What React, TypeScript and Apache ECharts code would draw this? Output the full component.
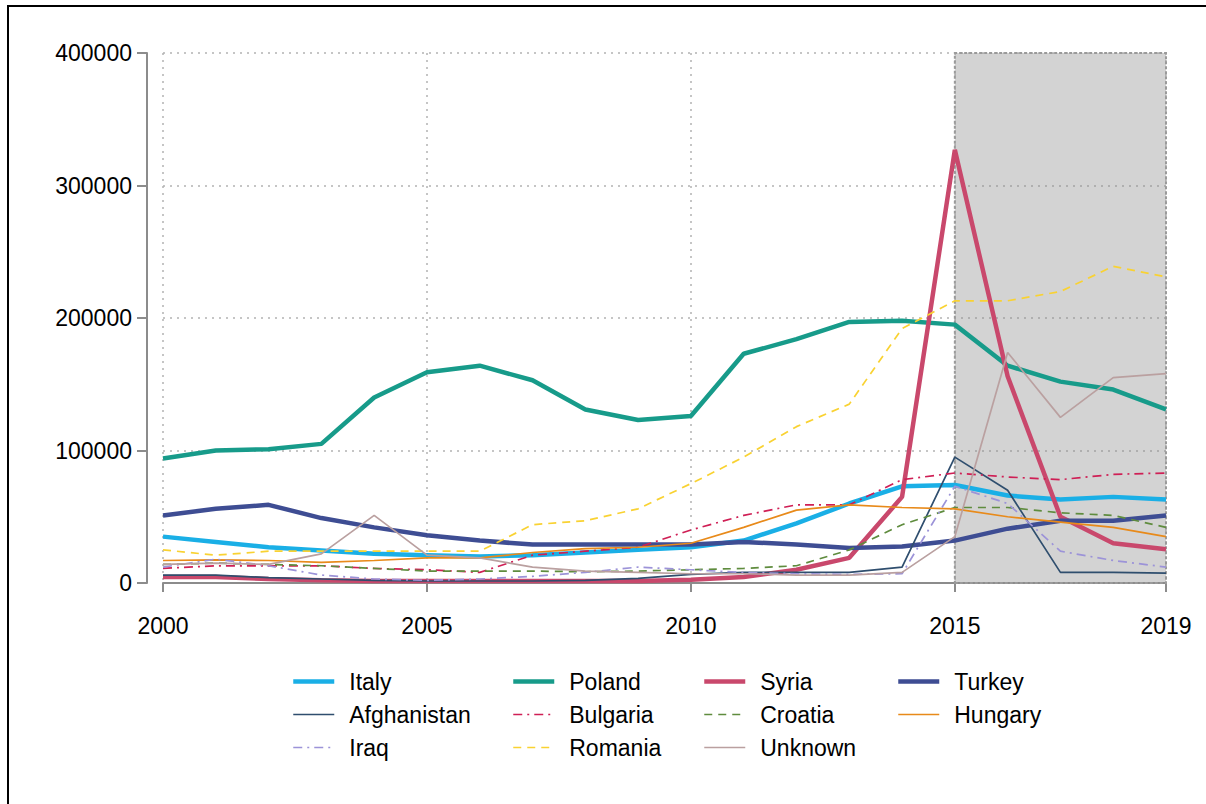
import React, { useEffect, useRef } from 'react';
import * as echarts from 'echarts';

const years = [2000, 2001, 2002, 2003, 2004, 2005, 2006, 2007, 2008, 2009, 2010, 2011, 2012, 2013, 2014, 2015, 2016, 2017, 2018, 2019];
const xTickValues = [2000, 2005, 2010, 2015, 2019];

const italy = [35000, 31000, 27000, 24500, 22000, 21000, 20000, 21000, 23000, 25000, 27000, 32000, 45000, 60000, 73000, 74000, 66000, 63000, 65000, 63000];
const poland = [94000, 100000, 101000, 105000, 140000, 159000, 164000, 153000, 131000, 123000, 126000, 173000, 184000, 197000, 198000, 195000, 164000, 152000, 146000, 131000];
const syria = [4500, 4500, 3000, 2000, 1500, 1500, 1500, 1500, 1500, 1500, 2500, 4500, 10000, 19000, 65000, 327000, 156000, 50000, 30000, 25500];
const turkey = [51000, 56000, 59000, 49000, 42000, 36000, 32000, 29000, 29000, 29000, 29000, 31000, 29000, 26500, 27500, 32000, 41000, 47000, 47000, 51000];
const afghanistan = [6000, 6000, 4000, 3000, 2000, 1500, 1500, 1500, 2000, 3500, 6500, 8000, 8000, 8000, 12000, 95000, 70000, 8000, 8000, 7500];
const bulgaria = [11000, 13000, 13000, 13000, 11000, 10000, 8000, 21000, 24000, 27000, 40000, 51000, 59000, 59000, 78000, 83000, 80000, 78000, 82000, 83000];
const croatia = [14000, 15000, 14000, 13000, 11000, 9000, 9000, 9000, 8500, 9000, 10000, 11000, 13000, 25000, 44000, 57000, 57000, 53000, 51000, 42000];
const hungary = [17000, 17500, 17000, 15500, 17000, 19000, 19000, 23000, 26000, 27000, 30000, 42000, 55000, 59000, 57000, 56000, 50000, 46000, 42000, 35000];
const iraq = [12000, 18000, 13000, 6000, 3000, 2000, 3000, 5000, 8000, 12000, 10000, 8000, 7000, 6500, 7000, 73000, 60000, 24000, 17000, 12000];
const romania = [25000, 21000, 24000, 24000, 24000, 24000, 24000, 44000, 47000, 56000, 75000, 95000, 118000, 135000, 192000, 213000, 213000, 220000, 239000, 231000];
const unknown = [14000, 15000, 14000, 22000, 51000, 21000, 19000, 12000, 9000, 8000, 7000, 7000, 6000, 6000, 8000, 35000, 174000, 125000, 155000, 158000];

const shadeFrom = 2015;
const shadeTo = 2019;

const legendCols = [
  ['Italy', 'Afghanistan', 'Iraq'],
  ['Poland', 'Bulgaria', 'Romania'],
  ['Syria', 'Croatia', 'Unknown'],
  ['Turkey', 'Hungary'],
];
const legendLefts = [291, 511, 702, 896];

const FONT = '"Liberation Sans", Arial, sans-serif';

type Spec = { name: string; values: number[]; color: string; width: number; dash: any };

const specs: Spec[] = [
  { name: 'Italy', values: italy, color: '#1aafe6', width: 4.5, dash: 'solid' },
  { name: 'Poland', values: poland, color: '#179b8a', width: 4.5, dash: 'solid' },
  { name: 'Syria', values: syria, color: '#c9486c', width: 4.5, dash: 'solid' },
  { name: 'Turkey', values: turkey, color: '#3e4d93', width: 4.5, dash: 'solid' },
  { name: 'Afghanistan', values: afghanistan, color: '#2f4e6e', width: 1.7, dash: 'solid' },
  { name: 'Bulgaria', values: bulgaria, color: '#cf1f55', width: 1.7, dash: [9, 5, 2, 5] },
  { name: 'Croatia', values: croatia, color: '#5f8c3e', width: 1.7, dash: [8, 6] },
  { name: 'Hungary', values: hungary, color: '#e88a1a', width: 1.7, dash: 'solid' },
  { name: 'Iraq', values: iraq, color: '#9c93d8', width: 1.7, dash: [9, 5, 2, 5] },
  { name: 'Romania', values: romania, color: '#f9d232', width: 1.7, dash: [8, 6] },
  { name: 'Unknown', values: unknown, color: '#baa0a0', width: 1.7, dash: 'solid' },
];

export default function App() {
  const ref = useRef<HTMLDivElement>(null);

  useEffect(() => {
    document.body.style.margin = '0';
    const chart = echarts.init(ref.current!, null, { renderer: 'svg' });

    const axisLineStyle = { color: '#8c8c8c', width: 2 };
    const gridLineStyle = { color: '#b3b3b3', width: 1.5, type: [2, 5] as any };

    const series: any[] = specs.map((s) => ({
      type: 'line',
      name: s.name,
      data: years.map((y, i) => [y, s.values[i]]),
      symbol: 'none',
      showSymbol: false,
      color: s.color,
      lineStyle: { color: s.color, width: s.width, type: s.dash },
      z: 2,
    }));

    series.push({
      type: 'line',
      name: '_shade',
      data: [],
      symbol: 'none',
      z: 10,
      silent: true,
      markArea: {
        silent: true,
        itemStyle: {
          color: 'rgba(140,140,140,0.38)',
          borderColor: '#9a9a9a',
          borderWidth: 2,
          borderType: [3, 2],
        },
        data: [[{ xAxis: shadeFrom, yAxis: 0 }, { xAxis: shadeTo, yAxis: 400000 }]],
      },
    });

    const specByName: Record<string, Spec> = {};
    specs.forEach((s) => (specByName[s.name] = s));

    const legends = legendCols.map((col, i) => ({
      orient: 'vertical',
      left: legendLefts[i],
      top: 670,
      padding: 0,
      itemWidth: 41,
      itemHeight: 14,
      itemGap: 10,
      selectedMode: false,
      data: col.map((name) => {
        const s = specByName[name];
        return {
          name,
          lineStyle: { color: s.color, width: s.width, type: s.dash },
        };
      }),
      itemStyle: { color: 'transparent', borderColor: 'transparent', borderWidth: 0, opacity: 0 },
      textStyle: {
        fontFamily: FONT,
        fontSize: 23,
        color: '#000',
        lineHeight: 23,
        padding: [0, 0, 0, 10],
      },
    }));

    chart.setOption({
      animation: false,
      backgroundColor: 'transparent',
      grid: { left: 163, right: 40, top: 53, bottom: 221, containLabel: false },
      legend: legends,
      xAxis: {
        type: 'value',
        min: 2000,
        max: 2019,
        offset: 18,
        axisLine: { show: true, lineStyle: axisLineStyle },
        axisTick: { show: true, length: 9, customValues: xTickValues, lineStyle: axisLineStyle },
        axisLabel: {
          customValues: xTickValues,
          formatter: (v: number) => String(v),
          fontFamily: FONT,
          fontSize: 23,
          color: '#000',
          margin: 13,
        },
        splitLine: { show: true, lineStyle: gridLineStyle },
      },
      yAxis: {
        type: 'value',
        min: 0,
        max: 400000,
        interval: 100000,
        offset: 16,
        axisLine: { show: true, lineStyle: axisLineStyle },
        axisTick: { show: true, length: 10, lineStyle: axisLineStyle },
        axisLabel: {
          formatter: (v: number) => String(v),
          fontFamily: FONT,
          fontSize: 23,
          color: '#000',
          margin: 15,
        },
        splitLine: { show: true, lineStyle: gridLineStyle },
      },
      series,
    });

    return () => chart.dispose();
  }, []);

  return (
    <div style={{ position: 'fixed', left: 0, top: 0, width: 1206, height: 804, overflow: 'hidden', background: '#fff' }}>
      <div
        style={{
          position: 'absolute',
          left: 7,
          top: 5,
          width: 1300,
          height: 900,
          border: '2px solid #000',
          boxSizing: 'border-box',
        }}
      />
      <div ref={ref} style={{ position: 'absolute', left: 0, top: 0, width: 1206, height: 804 }} />
    </div>
  );
}
